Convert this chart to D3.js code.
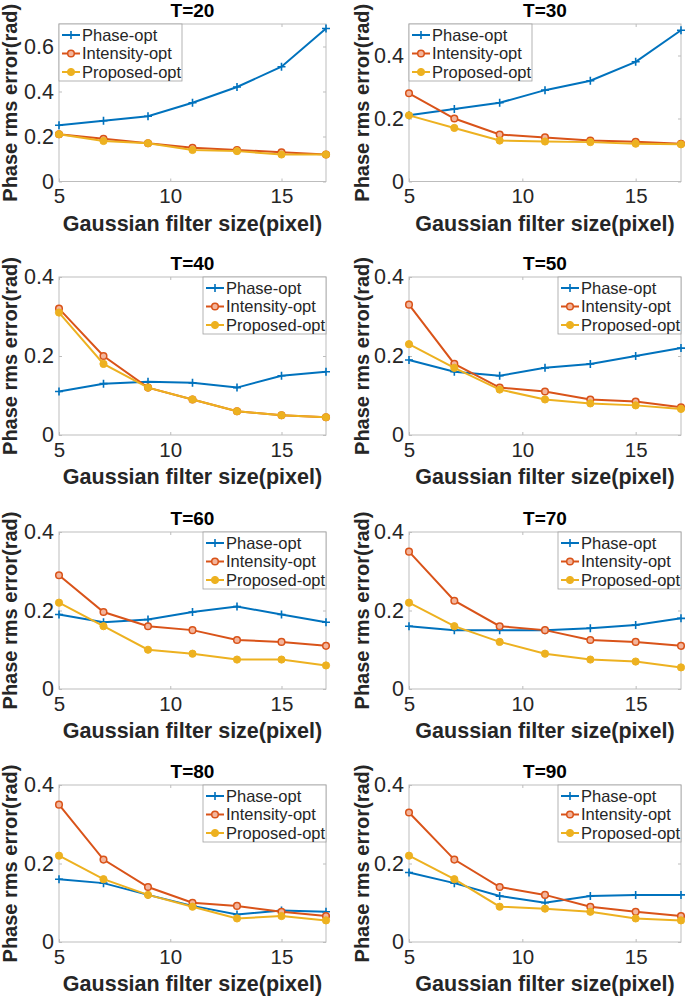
<!DOCTYPE html>
<html>
<head>
<meta charset="utf-8">
<script src="https://cdn.jsdelivr.net/npm/d3@7"></script>
<style>
  body { margin: 0; background: #fff; }
  text { font-family: "Liberation Sans", Arial, sans-serif; }
</style>
</head>
<body>
<svg id="chart"></svg>
<script>
// Data
const filterSizes = [5, 7, 9, 11, 13, 15, 17];
const panelTitles = ["T=20", "T=30", "T=40", "T=50", "T=60", "T=70", "T=80", "T=90"];
const seriesNames = ["Phase-opt", "Intensity-opt", "Proposed-opt"];

// one row per panel (T=20 ... T=90)
const phaseOpt = [
  [0.25, 0.27, 0.29, 0.35, 0.42, 0.51, 0.68],
  [0.21, 0.23, 0.25, 0.29, 0.32, 0.38, 0.48],
  [0.11, 0.13, 0.135, 0.132, 0.12, 0.15, 0.16],
  [0.19, 0.16, 0.15, 0.17, 0.18, 0.20, 0.22],
  [0.19, 0.17, 0.177, 0.196, 0.21, 0.19, 0.17],
  [0.16, 0.15, 0.15, 0.15, 0.155, 0.163, 0.18],
  [0.16, 0.15, 0.12, 0.092, 0.07, 0.08, 0.077],
  [0.177, 0.15, 0.117, 0.10, 0.117, 0.12, 0.12]
];
const intensityOpt = [
  [0.21, 0.19, 0.17, 0.15, 0.14, 0.13, 0.12],
  [0.28, 0.20, 0.149, 0.14, 0.13, 0.126, 0.12],
  [0.32, 0.20, 0.12, 0.09, 0.06, 0.05, 0.045],
  [0.33, 0.18, 0.12, 0.11, 0.09, 0.085, 0.07],
  [0.29, 0.196, 0.16, 0.15, 0.125, 0.12, 0.11],
  [0.35, 0.225, 0.16, 0.15, 0.125, 0.12, 0.11],
  [0.35, 0.21, 0.14, 0.10, 0.092, 0.077, 0.066],
  [0.33, 0.21, 0.14, 0.12, 0.09, 0.077, 0.066]
];
const proposedOpt = [
  [0.21, 0.18, 0.17, 0.14, 0.135, 0.12, 0.12],
  [0.21, 0.17, 0.13, 0.127, 0.125, 0.12, 0.118],
  [0.31, 0.18, 0.12, 0.09, 0.06, 0.05, 0.045],
  [0.23, 0.17, 0.115, 0.09, 0.08, 0.075, 0.066],
  [0.22, 0.16, 0.10, 0.09, 0.075, 0.075, 0.06],
  [0.22, 0.16, 0.12, 0.09, 0.075, 0.07, 0.055],
  [0.22, 0.16, 0.12, 0.09, 0.06, 0.066, 0.055],
  [0.22, 0.16, 0.09, 0.085, 0.077, 0.06, 0.055]
];

const xTicks = [5, 10, 15];
const yMax = [0.7, 0.5, 0.4, 0.4, 0.4, 0.4, 0.4, 0.4];
const yTickSets = [
  [0, 0.2, 0.4, 0.6], [0, 0.2, 0.4], [0, 0.2, 0.4], [0, 0.2, 0.4],
  [0, 0.2, 0.4], [0, 0.2, 0.4], [0, 0.2, 0.4], [0, 0.2, 0.4]
];
const legendCorner = ["left", "left", "right", "right", "right", "right", "right", "right"];

const xLabel = "Gaussian filter size(pixel)";
const yLabel = "Phase rms error(rad)";

// Layout
const width = 685, height = 997;
const cols = [
  { left: 59, right: 326, yLabelX: 17 },
  { left: 409, right: 681, yLabelX: 369 }
];
const rows = [
  { top: 24, bottom: 181.5 },
  { top: 277, bottom: 435 },
  { top: 532, bottom: 689 },
  { top: 785, bottom: 942 }
];
const colors = ["#0072BD", "#D95319", "#EDB120"];
const axisGray = "#bdbdbd";
const textColor = "#262626";

const svg = d3.select("#chart")
  .attr("width", width)
  .attr("height", height);

const allSeries = [phaseOpt, intensityOpt, proposedOpt];

// marker drawing for each series
function drawMarker(g, i, cx, cy) {
  if (i === 0) {
    g.append("path")
      .attr("d", `M${cx - 4},${cy}H${cx + 4}M${cx},${cy - 4}V${cy + 4}`)
      .attr("stroke", colors[0])
      .attr("stroke-width", 1.6)
      .attr("fill", "none");
  } else if (i === 1) {
    g.append("circle")
      .attr("cx", cx).attr("cy", cy).attr("r", 3.3)
      .attr("fill", "#f3b59c")
      .attr("stroke", colors[1])
      .attr("stroke-width", 1.5);
  } else {
    g.append("circle")
      .attr("cx", cx).attr("cy", cy).attr("r", 3.6)
      .attr("fill", colors[2])
      .attr("stroke", colors[2]);
  }
}

panelTitles.forEach((title, p) => {
  const col = cols[p % 2];
  const row = rows[Math.floor(p / 2)];

  const x = d3.scaleLinear().domain([5, 17]).range([col.left, col.right]);
  const y = d3.scaleLinear().domain([0, yMax[p]]).range([row.bottom, row.top]);

  const g = svg.append("g").attr("class", "panel");

  // axes box
  g.append("rect")
    .attr("x", col.left)
    .attr("y", row.top)
    .attr("width", col.right - col.left)
    .attr("height", row.bottom - row.top)
    .attr("fill", "#fff")
    .attr("stroke", axisGray)
    .attr("stroke-width", 1);

  const fmt = d => d === 0 ? "0" : d3.format(".1f")(d);

  // bottom axis with labels
  const xAxis = g.append("g")
    .attr("transform", `translate(0,${row.bottom})`)
    .call(d3.axisBottom(x).tickValues(xTicks).tickSize(-3).tickPadding(7).tickFormat(d3.format("d")));
  // left axis with labels
  const yAxis = g.append("g")
    .attr("transform", `translate(${col.left},0)`)
    .call(d3.axisLeft(y).tickValues(yTickSets[p]).tickSize(-3).tickPadding(5).tickFormat(fmt));
  // top / right tick marks only
  g.append("g")
    .attr("transform", `translate(0,${row.top})`)
    .call(d3.axisTop(x).tickValues(xTicks).tickSize(-3).tickFormat(""));
  g.append("g")
    .attr("transform", `translate(${col.right},0)`)
    .call(d3.axisRight(y).tickValues(yTickSets[p]).tickSize(-3).tickFormat(""));

  g.selectAll(".domain").remove();
  g.selectAll(".tick line").attr("stroke", axisGray);
  xAxis.selectAll("text").attr("font-size", 20.5).attr("fill", textColor);
  yAxis.selectAll("text").attr("font-size", 21.5).attr("fill", textColor);

  // series lines and markers
  const line = d3.line()
    .x((d, i) => x(filterSizes[i]))
    .y(d => y(d));

  allSeries.forEach((series, s) => {
    g.append("path")
      .datum(series[p])
      .attr("d", line)
      .attr("fill", "none")
      .attr("stroke", colors[s])
      .attr("stroke-width", 2);
    const mg = g.append("g");
    series[p].forEach((v, i) => drawMarker(mg, s, x(filterSizes[i]), y(v)));
  });

  // title
  g.append("text")
    .attr("x", (col.left + col.right) / 2)
    .attr("y", row.top - 7)
    .attr("text-anchor", "middle")
    .attr("font-size", 19)
    .attr("font-weight", "bold")
    .attr("fill", "#000")
    .text(title);

  // x label
  g.append("text")
    .attr("x", (col.left + col.right) / 2)
    .attr("y", row.bottom + 49)
    .attr("text-anchor", "middle")
    .attr("font-size", 21.5)
    .attr("font-weight", "bold")
    .attr("fill", textColor)
    .text(xLabel);

  // y label
  g.append("text")
    .attr("transform", `translate(${col.yLabelX},${(row.top + row.bottom) / 2}) rotate(-90)`)
    .attr("text-anchor", "middle")
    .attr("font-size", 20)
    .attr("font-weight", "bold")
    .attr("fill", textColor)
    .text(yLabel);

  // legend
  const legW = 123, legH = 57;
  const legX = legendCorner[p] === "left" ? col.left : col.right - legW;
  const leg = g.append("g").attr("transform", `translate(${legX},${row.top})`);
  leg.append("rect")
    .attr("width", legW)
    .attr("height", legH)
    .attr("fill", "#fff")
    .attr("stroke", "#a0a0a0")
    .attr("stroke-width", 0.8);
  seriesNames.forEach((name, s) => {
    const ly = 11 + s * 18.5;
    leg.append("line")
      .attr("x1", 3).attr("x2", 21)
      .attr("y1", ly).attr("y2", ly)
      .attr("stroke", colors[s])
      .attr("stroke-width", 2);
    drawMarker(leg, s, 12, ly);
    leg.append("text")
      .attr("x", 23)
      .attr("y", ly)
      .attr("dy", "0.35em")
      .attr("font-size", 16.5)
      .attr("fill", textColor)
      .text(name);
  });
});
</script>
</body>
</html>
